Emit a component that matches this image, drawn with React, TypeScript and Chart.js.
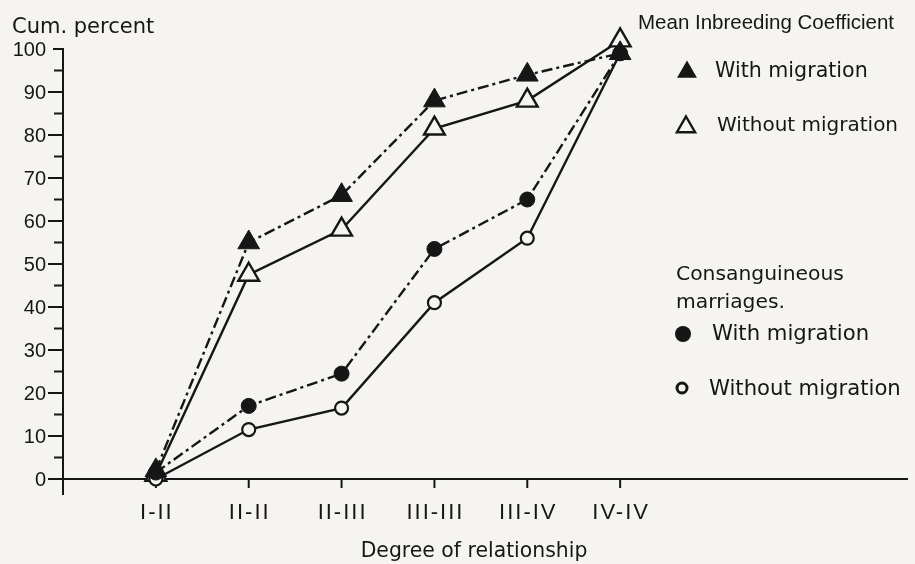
import React, { useEffect, useRef } from 'react';
import { Chart, registerables } from 'chart.js';

Chart.register(...registerables);

// ---- data ----
const categories = ['I-II', 'II-II', 'II-III', 'III-III', 'III-IV', 'IV-IV'];
const categoryPositions = [1, 2, 3, 4, 5, 6];
const inbreedingWith = [2, 55, 66, 88, 94, 99];
const inbreedingWithout = [1, 47.5, 58, 81.5, 88, 102];
const marriagesWith = [1.5, 17, 24.5, 53.5, 65, 99];
const marriagesWithout = [0, 11.5, 16.5, 41, 56, 99];
const yMajorTicks = [0, 10, 20, 30, 40, 50, 60, 70, 80, 90, 100];
const yMinorTicks = [5, 15, 25, 35, 45, 55, 65, 75, 85, 95];

const yTitle = 'Cum. percent';
const xTitle = 'Degree of relationship';
const legendTitle1 = 'Mean Inbreeding Coefficient';
const legendTitle2a = 'Consanguineous';
const legendTitle2b = 'marriages.';
const withLabel = 'With migration';
const withoutLabel = 'Without migration';

// ---- styles ----
const INK = '#161616';
const PAPER = '#f5f4f1';
const DASH_DOT = [11, 4, 3, 4];
const SANS = '"DejaVu Sans", sans-serif';
const HELV = '"Liberation Sans", Arial, sans-serif';

const toPoints = (vals: number[]) => categoryPositions.map((x, i) => ({ x, y: vals[i] }));

function drawTriangle(ctx: CanvasRenderingContext2D, cx: number, cy: number, r: number, filled: boolean) {
  ctx.beginPath();
  for (let k = 0; k < 3; k++) {
    const a = (k * 2 * Math.PI) / 3;
    const px = cx + Math.sin(a) * r;
    const py = cy - Math.cos(a) * r;
    if (k === 0) ctx.moveTo(px, py);
    else ctx.lineTo(px, py);
  }
  ctx.closePath();
  if (filled) {
    ctx.fillStyle = INK;
    ctx.fill();
  } else {
    ctx.fillStyle = PAPER;
    ctx.fill();
    ctx.lineWidth = 2.4;
    ctx.strokeStyle = INK;
    ctx.stroke();
  }
}

const paperPlugin = {
  id: 'paper',
  beforeDraw(chart: any) {
    const ctx = chart.ctx;
    ctx.save();
    ctx.fillStyle = PAPER;
    ctx.fillRect(0, 0, chart.width, chart.height);
    ctx.restore();
  },
};

const axesPlugin = {
  id: 'axes',
  beforeDatasetsDraw(chart: any) {
    const ctx: CanvasRenderingContext2D = chart.ctx;
    const xs = chart.scales.x;
    const ys = chart.scales.y;
    const ax = xs.getPixelForValue(0);
    const y0 = ys.getPixelForValue(0);
    const yTop = ys.getPixelForValue(100);
    const xEnd = xs.getPixelForValue(xs.max);
    ctx.save();
    ctx.strokeStyle = INK;
    ctx.lineWidth = 2;
    ctx.lineCap = 'butt';
    // y axis
    ctx.beginPath();
    ctx.moveTo(ax, yTop - 1);
    ctx.lineTo(ax, y0 + 16);
    ctx.stroke();
    // x axis
    ctx.beginPath();
    ctx.moveTo(ax, y0);
    ctx.lineTo(xEnd, y0);
    ctx.stroke();
    // y ticks
    yMajorTicks.forEach((v) => {
      const py = ys.getPixelForValue(v);
      const len = v === 100 ? 10 : 15;
      ctx.beginPath();
      ctx.moveTo(ax - len, py);
      ctx.lineTo(ax, py);
      ctx.stroke();
    });
    yMinorTicks.forEach((v) => {
      const py = ys.getPixelForValue(v);
      ctx.beginPath();
      ctx.moveTo(ax - 9, py);
      ctx.lineTo(ax, py);
      ctx.stroke();
    });
    // y labels
    ctx.fillStyle = INK;
    ctx.font = `20px ${HELV}`;
    ctx.textAlign = 'right';
    ctx.textBaseline = 'middle';
    yMajorTicks.forEach((v) => {
      const py = ys.getPixelForValue(v);
      ctx.fillText(String(v), ax - 17, py + 1);
    });
    // x ticks
    categoryPositions.forEach((c) => {
      const px = xs.getPixelForValue(c);
      ctx.beginPath();
      ctx.moveTo(px, y0);
      ctx.lineTo(px, y0 + 9);
      ctx.stroke();
    });
    // x labels
    ctx.font = `22px ${HELV}`;
    ctx.textAlign = 'center';
    ctx.textBaseline = 'alphabetic';
    (ctx as any).letterSpacing = '2px';
    categoryPositions.forEach((c, i) => {
      const px = xs.getPixelForValue(c);
      ctx.fillText(categories[i], px + 1, y0 + 40);
    });
    (ctx as any).letterSpacing = '0px';
    // axis titles
    ctx.font = `20.4px ${SANS}`;
    ctx.textAlign = 'center';
    ctx.fillText(xTitle, 474, 557);
    ctx.textAlign = 'left';
    ctx.font = `21px ${SANS}`;
    ctx.fillText(yTitle, 12, 33);
    ctx.restore();
  },
};

const legendPlugin = {
  id: 'customLegend',
  afterDraw(chart: any) {
    const ctx: CanvasRenderingContext2D = chart.ctx;
    ctx.save();
    ctx.fillStyle = INK;
    ctx.textAlign = 'left';
    ctx.textBaseline = 'alphabetic';
    ctx.font = `20.5px ${HELV}`;
    ctx.fillText(legendTitle1, 638, 29);
    drawTriangle(ctx, 687, 72, 11.5, true);
    drawTriangle(ctx, 686, 127, 10.5, false);
    ctx.fillStyle = INK;
    ctx.font = `20.6px ${SANS}`;
    ctx.fillText(withLabel, 715, 77);
    ctx.font = `20px ${SANS}`;
    ctx.fillText(withoutLabel, 717, 131);
    ctx.font = `20.3px ${SANS}`;
    ctx.fillText(legendTitle2a, 676, 280);
    ctx.fillText(legendTitle2b, 676, 308);
    ctx.font = `21.2px ${SANS}`;
    ctx.fillText(withLabel, 712, 340);
    ctx.fillText(withoutLabel, 709, 395);
    // circles
    ctx.beginPath();
    ctx.arc(683, 334, 8, 0, Math.PI * 2);
    ctx.fillStyle = INK;
    ctx.fill();
    ctx.beginPath();
    ctx.arc(682, 388, 5, 0, Math.PI * 2);
    ctx.fillStyle = PAPER;
    ctx.fill();
    ctx.lineWidth = 3;
    ctx.strokeStyle = INK;
    ctx.stroke();
    ctx.restore();
  },
};

export default function App() {
  const canvasRef = useRef<HTMLCanvasElement | null>(null);

  useEffect(() => {
    const canvas = canvasRef.current;
    if (!canvas) return;
    const common = {
      borderColor: INK,
      borderWidth: 2.4,
      pointBorderColor: INK,
      clip: false as any,
      tension: 0,
    };
    const chart = new Chart(canvas, {
      type: 'line',
      data: {
        datasets: [
          {
            ...common,
            label: 'Consanguineous marriages – with migration',
            data: toPoints(marriagesWith),
            borderDash: DASH_DOT,
            pointStyle: 'circle',
            pointRadius: 7.5,
            pointBorderWidth: 1,
            pointBackgroundColor: INK,
          },
          {
            ...common,
            label: 'Mean inbreeding coefficient – with migration',
            data: toPoints(inbreedingWith),
            borderDash: DASH_DOT,
            pointStyle: 'triangle',
            pointRadius: 12.5,
            pointBorderWidth: 1,
            pointBackgroundColor: INK,
          },
          {
            ...common,
            label: 'Consanguineous marriages – without migration',
            data: toPoints(marriagesWithout),
            pointStyle: 'circle',
            pointRadius: 6.5,
            pointBorderWidth: 2.2,
            pointBackgroundColor: PAPER,
          },
          {
            ...common,
            label: 'Mean inbreeding coefficient – without migration',
            data: toPoints(inbreedingWithout),
            pointStyle: 'triangle',
            pointRadius: 12,
            pointBorderWidth: 2.4,
            pointBackgroundColor: PAPER,
          },
        ],
      },
      options: {
        responsive: false,
        animation: false,
        devicePixelRatio: 1,
        layout: { autoPadding: false, padding: { left: 63, right: 7, top: 49, bottom: 85 } },
        scales: {
          x: { type: 'linear', min: 0, max: 9.1, display: false },
          y: { type: 'linear', min: 0, max: 100, display: false },
        },
        plugins: {
          legend: { display: false },
          tooltip: { enabled: false },
        },
        events: [],
      },
      plugins: [paperPlugin, axesPlugin, legendPlugin],
    });
    return () => chart.destroy();
  }, []);

  return (
    <div style={{ position: 'absolute', left: 0, top: 0, width: 915, height: 564, background: PAPER }}>
      <canvas ref={canvasRef} width={915} height={564} style={{ display: 'block' }} />
    </div>
  );
}
